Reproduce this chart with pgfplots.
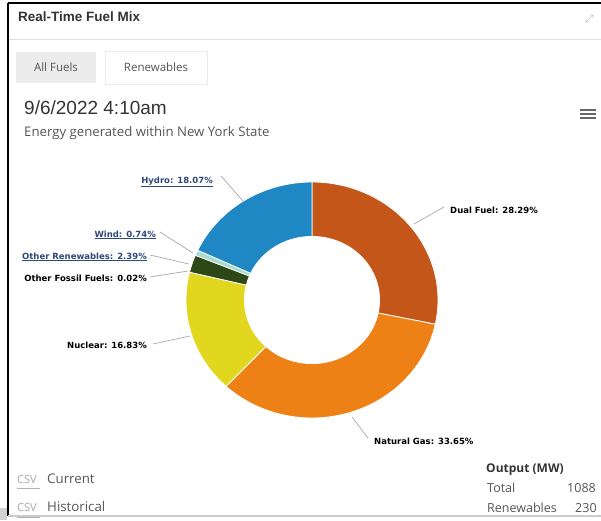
\documentclass[border=0pt]{standalone}
\usepackage{pgfplots}
\pgfplotsset{compat=1.18}
\usepackage{fontspec}
\setmainfont{Open Sans}
\newfontfamily\lblfont{DejaVu Sans}
\newfontfamily\hdfont{Liberation Sans}
\definecolor{dual}{HTML}{C4561A}
\definecolor{gas}{HTML}{EE8116}
\definecolor{nuc}{HTML}{E1D71F}
\definecolor{ofos}{HTML}{6B6B6B}
\definecolor{oren}{HTML}{2E4716}
\definecolor{wind}{HTML}{A9DCCF}
\definecolor{hydro}{HTML}{1F88C4}
\definecolor{lnk}{HTML}{2E4878}
\definecolor{txt}{HTML}{333333}
\definecolor{sub}{HTML}{555555}
\definecolor{lead}{HTML}{A8A8A8}
\begin{document}
\begin{tikzpicture}
\begin{axis}[at={(0,0)}, anchor=south west, width=601pt, height=520pt, scale only axis,
  xmin=0, xmax=601, ymin=0, ymax=520, hide axis, clip=false]
% --- donut wedges (percentages: 28.29, 33.65, 16.83, 0.02, 2.39, 0.74, 18.07), clockwise from top
\addplot[fill=dual, draw=white, line width=0.8pt, domain=-11.844:90, samples=60, variable=\t]
  ({312+126*cos(\t)},{220+118*sin(\t)}) -- (axis cs:312,220) -- cycle;
\addplot[fill=gas, draw=white, line width=0.8pt, domain=-132.984:-11.844, samples=70, variable=\t]
  ({312+126*cos(\t)},{220+118*sin(\t)}) -- (axis cs:312,220) -- cycle;
\addplot[fill=nuc, draw=white, line width=0.8pt, domain=-193.572:-132.984, samples=40, variable=\t]
  ({312+126*cos(\t)},{220+118*sin(\t)}) -- (axis cs:312,220) -- cycle;
\addplot[fill=ofos, draw=white, line width=0.3pt, domain=-193.644:-193.572, samples=2, variable=\t]
  ({312+126*cos(\t)},{220+118*sin(\t)}) -- (axis cs:312,220) -- cycle;
\addplot[fill=oren, draw=white, line width=0.8pt, domain=-202.248:-193.644, samples=8, variable=\t]
  ({312+126*cos(\t)},{220+118*sin(\t)}) -- (axis cs:312,220) -- cycle;
\addplot[fill=wind, draw=white, line width=0.6pt, domain=-204.912:-202.248, samples=4, variable=\t]
  ({312+126*cos(\t)},{220+118*sin(\t)}) -- (axis cs:312,220) -- cycle;
\addplot[fill=hydro, draw=white, line width=0.8pt, domain=-269.964:-204.912, samples=45, variable=\t]
  ({312+126*cos(\t)},{220+118*sin(\t)}) -- (axis cs:312,220) -- cycle;
% hole
\addplot[fill=white, draw=none, domain=0:360, samples=100, variable=\t]
  ({312+68*cos(\t)},{220+64*sin(\t)}) -- cycle;
% --- leader lines
\addplot[lead, line width=0.7pt] coordinates {(221,344) (243,319)};
\addplot[lead, line width=0.7pt] coordinates {(160,288) (193,267)};
\addplot[lead, line width=0.7pt] coordinates {(150,265) (189,256)};
\addplot[lead, line width=0.7pt] coordinates {(150,243) (188,249)};
\addplot[lead, line width=0.7pt] coordinates {(153,176) (190,184)};
\addplot[lead, line width=0.7pt] coordinates {(444,313) (414,296)};
\addplot[lead, line width=0.7pt] coordinates {(368,82) (352,103)};
% --- data labels
\begin{scope}[every node/.style={font=\lblfont\bfseries\fontsize{8.5}{10}\selectfont, inner sep=0pt}]
\node[anchor=base east, text=lnk] at (axis cs:213,337) {\underline{Hydro: 18.07\%}};
\node[anchor=base east, text=lnk] at (axis cs:156,283) {\underline{Wind: 0.74\%}};
\node[anchor=base east, text=lnk] at (axis cs:147,261) {\underline{Other Renewables: 2.39\%}};
\node[anchor=base east, text=black] at (axis cs:147,239) {Other Fossil Fuels: 0.02\%};
\node[anchor=base east, text=black] at (axis cs:147,172) {Nuclear: 16.83\%};
\node[anchor=base west, text=black] at (axis cs:450,307) {Dual Fuel: 28.29\%};
\node[anchor=base west, text=black] at (axis cs:374,76) {Natural Gas: 33.65\%};
\end{scope}
% --- panel frame
\draw[black, line width=2pt] (axis cs:8,517) -- (axis cs:601,517);
\draw[black, line width=2pt] (axis cs:8,517) -- (axis cs:8,4);
\draw[gray!40, line width=1.5pt] (axis cs:8,4) -- (axis cs:601,4);
\fill[gray!35] (axis cs:0,0) rectangle (axis cs:7,12);
\draw[gray!25, line width=1pt] (axis cs:9,480) -- (axis cs:601,480);
% header
\node[anchor=base west, inner sep=0pt, text=txt, font=\hdfont\bfseries\fontsize{13.5}{15}\selectfont] at (axis cs:18,498) {Real-Time Fuel Mix};
\draw[gray!40, line width=0.6pt] (axis cs:586,498) -- (axis cs:593,505) (axis cs:590,505) -- (axis cs:593,505) -- (axis cs:593,502)
  (axis cs:586,498) -- (axis cs:589,498) (axis cs:586,498) -- (axis cs:586,501);
% buttons
\fill[gray!15] (axis cs:16,437) rectangle (axis cs:96,468);
\draw[gray!15, line width=0.8pt, fill=white] (axis cs:105,436) rectangle (axis cs:207,469);
\node[text=sub, font=\fontsize{11.5}{13}\selectfont] at (axis cs:56,453) {All Fuels};
\node[text=sub, font=\fontsize{11.5}{13}\selectfont] at (axis cs:156,453) {Renewables};
% date and subtitle
\node[anchor=base west, inner sep=0pt, text=txt, font=\hdfont\fontsize{19}{21}\selectfont] at (axis cs:24,405) {9/6/2022 4:10am};
\node[anchor=base west, inner sep=0pt, text=sub, font=\fontsize{13.2}{15}\selectfont] at (axis cs:24,383) {Energy generated within New York State};
% hamburger
\draw[gray!80!black, line width=1.8pt] (axis cs:580,410) -- (axis cs:596,410) (axis cs:580,406) -- (axis cs:596,406) (axis cs:580,402) -- (axis cs:596,402);
% csv links
\node[anchor=base west, inner sep=0pt, text=gray!70, font=\fontsize{11}{12}\selectfont] at (axis cs:17,37) {CSV};
\node[anchor=base west, inner sep=0pt, text=sub, font=\fontsize{13.3}{15}\selectfont] at (axis cs:47,37) {Current};
\draw[gray!60, line width=0.8pt] (axis cs:17,32) -- (axis cs:40,32);
\node[anchor=base west, inner sep=0pt, text=gray!70, font=\fontsize{11}{12}\selectfont] at (axis cs:17,9) {CSV};
\node[anchor=base west, inner sep=0pt, text=sub, font=\fontsize{13.3}{15}\selectfont] at (axis cs:47,9) {Historical};
\draw[gray!60, line width=0.8pt] (axis cs:17,3) -- (axis cs:40,3);
% output
\node[anchor=base west, inner sep=0pt, text=txt, font=\bfseries\fontsize{12}{13}\selectfont] at (axis cs:486,48) {Output (MW)};
\node[anchor=base west, inner sep=0pt, text=sub, font=\fontsize{12.5}{14}\selectfont] at (axis cs:487,28) {Total};
\node[anchor=base west, inner sep=0pt, text=sub, font=\fontsize{12.5}{14}\selectfont] at (axis cs:567,28) {1088};
\node[anchor=base west, inner sep=0pt, text=sub, font=\fontsize{12.5}{14}\selectfont] at (axis cs:487,8) {Renewables};
\node[anchor=base west, inner sep=0pt, text=sub, font=\fontsize{12.5}{14}\selectfont] at (axis cs:575,8) {230};
\end{axis}
\pgfresetboundingbox
\path (0,0) rectangle (601pt,520pt);
\end{tikzpicture}
\end{document}
